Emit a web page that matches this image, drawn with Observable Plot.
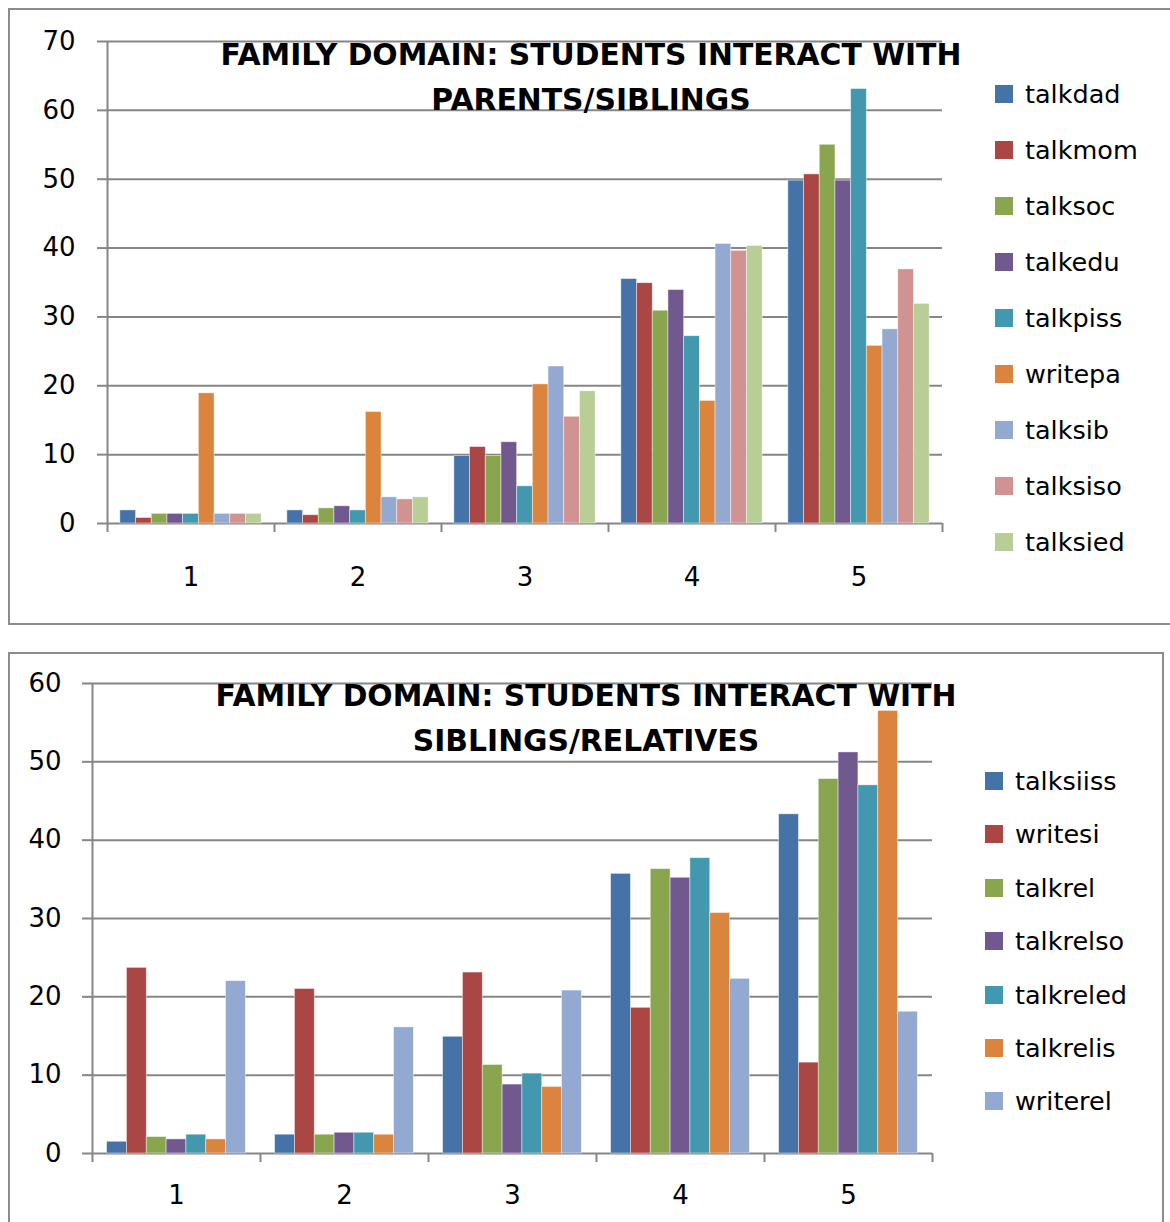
<!DOCTYPE html>
<html>
<head>
<meta charset="utf-8">
<script src="https://cdn.jsdelivr.net/npm/d3@7"></script>
<script src="https://cdn.jsdelivr.net/npm/@observablehq/plot@0.6"></script>
<style>
  body { margin: 0; background: #fff; font-family: "DejaVu Sans", sans-serif; }
  #page { position: relative; width: 1170px; height: 1222px; overflow: hidden; background: #fff; }
  .box { position: absolute; border: 2px solid #8c8c8c; box-sizing: border-box; }
  .chart { position: absolute; left: 0; }
  .chart svg { display: block; }
  .title { position: absolute; transform: translateX(-50%); text-align: center; white-space: nowrap;
           font-weight: bold; font-size: 29.8px; line-height: 45px; color: #000; }
  .legend { position: absolute; }
  .legend .row { position: absolute; left: 0; height: 30px; line-height: 30px; display: flex; align-items: center;
                 white-space: nowrap; font-size: 25.5px; color: #000; }
  .legend .sw { width: 18px; height: 18px; margin-right: 12px; flex: none; }
</style>
</head>
<body>
<div id="page"></div>
<script>
// Response categories shared by both panels
const groups = ["1", "2", "3", "4", "5"];

// Panel 1: students interact with parents/siblings
const parentTitle = ["FAMILY DOMAIN: STUDENTS INTERACT WITH", "PARENTS/SIBLINGS"];
const parentSeries = ["talkdad", "talkmom", "talksoc", "talkedu", "talkpiss", "writepa", "talksib", "talksiso", "talksied"];
const parentColors = ["#4572A7", "#AA4643", "#89A54E", "#71588F", "#4198AF", "#DB843D", "#93A9CF", "#D19392", "#B9CD96"];
const talkdad  = [1.9, 1.9, 9.8, 35.5, 49.8];
const talkmom  = [0.8, 1.2, 11.1, 34.9, 50.7];
const talksoc  = [1.4, 2.2, 9.8, 30.9, 55.0];
const talkedu  = [1.4, 2.5, 11.8, 33.9, 49.8];
const talkpiss = [1.4, 1.9, 5.4, 27.2, 63.1];
const writepa  = [18.9, 16.2, 20.2, 17.8, 25.8];
const talksib  = [1.4, 3.8, 22.8, 40.6, 28.2];
const talksiso = [1.4, 3.5, 15.5, 39.6, 36.9];
const talksied = [1.4, 3.8, 19.2, 40.3, 31.9];
const parentTicks = [0, 10, 20, 30, 40, 50, 60, 70];

// Panel 2: students interact with siblings/relatives
const relativeTitle = ["FAMILY DOMAIN: STUDENTS INTERACT WITH", "SIBLINGS/RELATIVES"];
const relativeSeries = ["talksiiss", "writesi", "talkrel", "talkrelso", "talkreled", "talkrelis", "writerel"];
const relativeColors = ["#4572A7", "#AA4643", "#89A54E", "#71588F", "#4198AF", "#DB843D", "#93A9CF"];
const talksiiss = [1.5, 2.4, 14.9, 35.7, 43.3];
const writesi   = [23.7, 21.0, 23.1, 18.6, 11.6];
const talkrel   = [2.1, 2.4, 11.3, 36.3, 47.8];
const talkrelso = [1.8, 2.65, 8.8, 35.2, 51.2];
const talkreled = [2.4, 2.65, 10.2, 37.7, 47.0];
const talkrelis = [1.8, 2.4, 8.5, 30.7, 56.5];
const writerel  = [22.0, 16.1, 20.8, 22.3, 18.1];
const relativeTicks = [0, 10, 20, 30, 40, 50, 60];

const axisGray = "#868686";
const page = document.getElementById("page");

function addBox(left, top, width, height) {
  const b = document.createElement("div");
  b.className = "box";
  Object.assign(b.style, {left: left + "px", top: top + "px", width: width + "px", height: height + "px"});
  page.appendChild(b);
}

// Clustered bar chart: each group spans one unit of x, bars packed inside it
function barChart(cfg) {
  const {series, colors, values, ticks, top, height, marginLeft, marginRight, marginTop, marginBottom,
         gap, tickPadding, labelPadding} = cfg;
  const rows = [];
  series.forEach((s, si) => values[si].forEach((v, gi) => rows.push({series: s, si, gi, value: v})));
  const bw = (1 - 2 * gap) / series.length;
  const svg = Plot.plot({
    width: 1170, height, marginLeft, marginRight, marginTop, marginBottom,
    style: {fontFamily: "'DejaVu Sans', sans-serif", background: "transparent", color: "#000"},
    x: {domain: [0, groups.length], axis: null},
    y: {domain: [0, d3.max(ticks)], axis: null},
    color: {domain: series, range: colors},
    marks: [
      Plot.ruleY(ticks, {stroke: axisGray, strokeWidth: 2}),
      Plot.ruleX([0], {stroke: axisGray, strokeWidth: 2}),
      Plot.axisY({ticks, anchor: "left", tickSize: 10, tickPadding, stroke: axisGray, strokeWidth: 2,
                  fill: "#000", fontSize: 26, label: null}),
      Plot.axisX({ticks: d3.range(groups.length + 1), anchor: "bottom", tickSize: 9, stroke: axisGray,
                  strokeWidth: 2, tickFormat: () => "", label: null}),
      Plot.axisX({ticks: groups.map((g, i) => i + 0.5), anchor: "bottom", tickSize: 0, tickPadding: labelPadding,
                  tickFormat: d => groups[Math.floor(d)], fill: "#000", fontSize: 26, label: null}),
      Plot.rectY(rows, {
        x1: d => d.gi + gap + d.si * bw,
        x2: d => d.gi + gap + (d.si + 1) * bw,
        y1: 0, y2: "value", fill: "series",
        stroke: "#ffffff", strokeOpacity: 0.55, strokeWidth: 0.8
      })
    ]
  });
  const holder = document.createElement("div");
  holder.className = "chart";
  holder.style.top = top + "px";
  holder.appendChild(svg);
  page.appendChild(holder);
}

function addTitle(lines, cx, top) {
  const t = document.createElement("div");
  t.className = "title";
  t.style.left = cx + "px";
  t.style.top = top + "px";
  t.innerHTML = lines.map(l => `<div>${l}</div>`).join("");
  page.appendChild(t);
}

function addLegend(series, colors, left, firstY, step) {
  const lg = document.createElement("div");
  lg.className = "legend";
  lg.style.left = left + "px";
  lg.style.top = "0px";
  series.forEach((s, i) => {
    const row = document.createElement("div");
    row.className = "row";
    row.style.top = (firstY + i * step - 15) + "px";
    const sw = document.createElement("span");
    sw.className = "sw";
    sw.style.background = colors[i];
    const label = document.createElement("span");
    label.textContent = s;
    row.appendChild(sw);
    row.appendChild(label);
    lg.appendChild(row);
  });
  page.appendChild(lg);
}

// Frames around the two panels
addBox(8, 8, 1180, 617);
addBox(8, 652, 1156, 600);

barChart({
  series: parentSeries, colors: parentColors,
  values: [talkdad, talkmom, talksoc, talkedu, talkpiss, writepa, talksib, talksiso, talksied],
  ticks: parentTicks, top: 0, height: 624,
  marginLeft: 107, marginRight: 228, marginTop: 41, marginBottom: 101,
  gap: 0.077, tickPadding: 22, labelPadding: 44
});
addTitle(parentTitle, 591, 32);
addLegend(parentSeries, parentColors, 995, 94, 56);

barChart({
  series: relativeSeries, colors: relativeColors,
  values: [talksiiss, writesi, talkrel, talkrelso, talkreled, talkrelis, writerel],
  ticks: relativeTicks, top: 640, height: 582,
  marginLeft: 92, marginRight: 238, marginTop: 43, marginBottom: 69,
  gap: 0.087, tickPadding: 21, labelPadding: 32
});
addTitle(relativeTitle, 586, 673);
addLegend(relativeSeries, relativeColors, 985, 781, 53.4);
</script>
</body>
</html>
